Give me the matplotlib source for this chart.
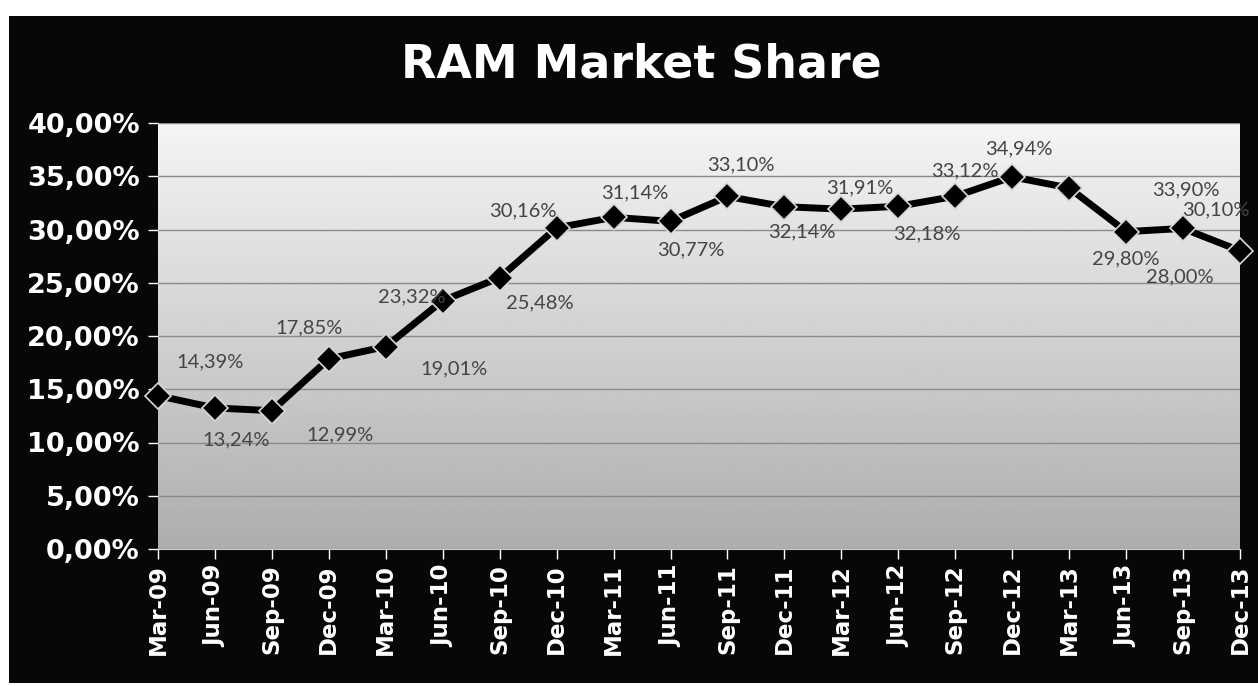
import numpy as np
import matplotlib
matplotlib.use("Agg")
import matplotlib.pyplot as plt
from matplotlib.patches import Rectangle
from matplotlib.ticker import FuncFormatter, MultipleLocator

# quarters and RAM market share values (%)
quarters = ["Mar-09", "Jun-09", "Sep-09", "Dec-09", "Mar-10", "Jun-10", "Sep-10",
            "Dec-10", "Mar-11", "Jun-11", "Sep-11", "Dec-11", "Mar-12", "Jun-12",
            "Sep-12", "Dec-12", "Mar-13", "Jun-13", "Sep-13", "Dec-13"]
share = [14.39, 13.24, 12.99, 17.85, 19.01, 23.32, 25.48, 30.16, 31.14, 30.77,
         33.10, 32.14, 31.91, 32.18, 33.12, 34.94, 33.90, 29.80, 30.10, 28.00]

# where each data label sits relative to its point (pixels, x right / y up)
label_offsets = [(52, 34), (21, -32), (68, -24), (-20, 31), (68, -22), (-31, 4),
                 (40, -25), (-34, 17), (21, 24), (20, -29), (13, 32), (17, -25),
                 (18, 21), (29, -28), (10, 25), (7, 28), (117, -2), (0, -27),
                 (33, 19), (-60, -26)]

W, H = 1258, 686
fig = plt.figure(figsize=(W / 100, H / 100), dpi=100)
fig.patch.set_facecolor("white")
# dark frame behind everything
fig.patches.append(Rectangle((9 / W, 3 / H), (W - 9) / W, (H - 3 - 16) / H,
                             transform=fig.transFigure, facecolor="#070707",
                             edgecolor="none", zorder=-10))

ax = fig.add_axes([158 / W, (H - 549) / H, (1240 - 158) / W, (549 - 123) / H])
ax.set_facecolor("none")

x = np.arange(len(quarters))

# vertical gradient for the plot area (light at top, darker at bottom)
grad = np.linspace(0.96, 0.68, 256).reshape(-1, 1)
ax.imshow(grad, cmap="gray", vmin=0, vmax=1, aspect="auto", origin="upper",
          extent=(0, len(quarters) - 1, 0, 40), zorder=0)
ax.set_xlim(0, len(quarters) - 1)
ax.set_ylim(0, 40)

ax.yaxis.set_major_locator(MultipleLocator(5))
ax.yaxis.set_major_formatter(FuncFormatter(lambda v, p: f"{v:.2f}%".replace(".", ",")))
ax.grid(axis="y", color="#8a8a8a", linewidth=1.0, zorder=1)
ax.set_axisbelow(True)

ax.plot(x, share, color="black", linewidth=5, marker="D", markersize=13,
        markerfacecolor="black", markeredgecolor="#d8d8d8", markeredgewidth=1.2,
        zorder=3, clip_on=False)

for xi, v, (dx, dy) in zip(x, share, label_offsets):
    ax.annotate(f"{v:.2f}%".replace(".", ","), (xi, v), xytext=(dx, dy),
                textcoords="offset pixels", ha="center", va="center",
                fontsize=14.5, color="#444444", family="Lato", zorder=4)

ax.set_xticks(x)
ax.set_xticklabels(quarters, rotation=90, fontsize=16.5, fontweight="bold",
                   color="white", family="DejaVu Sans")
for lab in ax.get_yticklabels():
    lab.set_fontsize(19.5)
    lab.set_fontweight("bold")
    lab.set_color("white")
ax.tick_params(axis="both", colors="white", length=7, width=1)
ax.tick_params(axis="y", pad=6)
ax.tick_params(axis="x", pad=4)
for s in ["top", "right", "left"]:
    ax.spines[s].set_visible(False)
ax.spines["bottom"].set_color("#cccccc")

fig.text(641 / W, (H - 65) / H, "RAM Market Share", ha="center", va="center",
         fontsize=33, fontweight="bold", color="white", family="DejaVu Sans")

fig.savefig("out.png", dpi=100, facecolor=fig.get_facecolor())
